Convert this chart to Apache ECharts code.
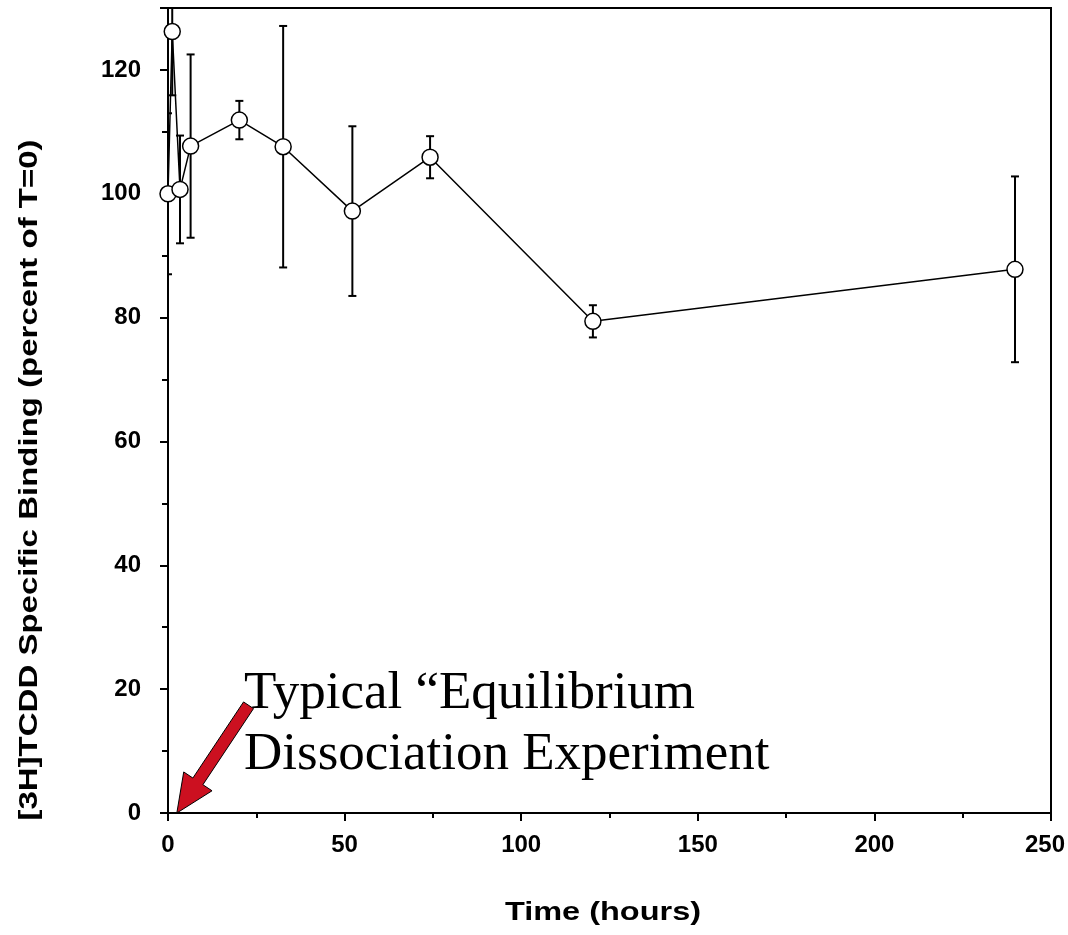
<!DOCTYPE html>
<html>
<head>
<meta charset="utf-8">
<script src="https://cdn.jsdelivr.net/npm/echarts@6/dist/echarts.min.js"></script>
<style>
html,body{margin:0;padding:0;background:#fff;}
#chart{width:1068px;height:935px;}
</style>
</head>
<body>
<div id="chart"></div>
<script>
// Data
const timeHours = [0, 1.2, 3.4, 6.4, 20.2, 32.6, 52.2, 74.2, 120.3, 239.8];
const bindingPct = [100, 126.2, 100.7, 107.7, 111.9, 107.6, 97.2, 105.9, 79.4, 87.8];
const bindingErr = [13, 10.3, 8.7, 14.8, 3.1, 19.5, 13.7, 3.4, 2.6, 15];
const xTickLabels = [0, 50, 100, 150, 200, 250];
const yTickLabels = [0, 20, 40, 60, 80, 100, 120];
const yAxisTitle = '[3H]TCDD Specific Binding (percent of T=0)';
const xAxisTitle = 'Time (hours)';
const noteLines = ['Typical \u201CEquilibrium', 'Dissociation Experiment'];
const arrowTip = [2.5, 0];
const arrowTail = [22.8, 17.4];

const points = timeHours.map((t, i) => [t, bindingPct[i]]);
const errData = timeHours.map((t, i) => [t, bindingPct[i] - bindingErr[i], bindingPct[i] + bindingErr[i]]);

const chart = echarts.init(document.getElementById('chart'));
const FONT = '"Liberation Sans", Arial, sans-serif';
const labelStyle = { fontFamily: FONT, fontWeight: 'bold', fontSize: 24, color: '#000' };

const option = {
  animation: false,
  backgroundColor: '#fff',
  grid: { left: 168, right: 17, top: 8, bottom: 122, show: true, borderColor: '#000', borderWidth: 2,
    backgroundColor: 'transparent', containLabel: false, outerBoundsMode: 'none' },
  xAxis: [{
    type: 'value', min: 0, max: 250, interval: 50,
    axisLine: { show: true, lineStyle: { color: '#000', width: 2 } },
    axisTick: { show: true, length: 8, lineStyle: { color: '#000', width: 2 } },
    minorTick: { show: true, splitNumber: 2, length: 5, lineStyle: { color: '#000', width: 2 } },
    splitLine: { show: false },
    axisLabel: Object.assign({ margin: 20,
      rich: { last: Object.assign({ padding: [0, 12, 0, 0] }, labelStyle) },
      formatter: v => !xTickLabels.includes(v) ? '' : (v === xTickLabels[xTickLabels.length - 1] ? '{last|' + v + '}' : String(v)) }, labelStyle)
  }],
  yAxis: [{
    type: 'value', min: 0, max: 130, interval: 20,
    axisLine: { show: true, lineStyle: { color: '#000', width: 2 } },
    axisTick: { show: true, length: 8, lineStyle: { color: '#000', width: 2 } },
    splitLine: { show: false },
    axisLabel: Object.assign({ margin: 27,
      formatter: v => yTickLabels.includes(v) ? String(v) : '' }, labelStyle)
  }, {
    type: 'value', min: 0, max: 130, interval: 10, position: 'left',
    axisLine: { show: false },
    axisTick: { show: true, length: 6, lineStyle: { color: '#000', width: 2 } },
    splitLine: { show: false },
    axisLabel: { show: false }
  }],
  series: [{
    type: 'custom',
    z: 1,
    clip: true,
    data: errData,
    renderItem: function (params, api) {
      const x = api.value(0);
      const lo = api.coord([x, api.value(1)]);
      const hi = api.coord([x, api.value(2)]);
      const cs = params.coordSys;
      const top = cs.y;
      const hw = 4;
      const children = [];
      const yHi = Math.max(hi[1], top);
      children.push({ type: 'line', shape: { x1: lo[0], y1: lo[1], x2: lo[0], y2: yHi }, style: { stroke: '#000', lineWidth: 2 } });
      children.push({ type: 'line', shape: { x1: lo[0] - hw, y1: lo[1], x2: lo[0] + hw, y2: lo[1] }, style: { stroke: '#000', lineWidth: 2 } });
      if (hi[1] >= top) {
        children.push({ type: 'line', shape: { x1: hi[0] - hw, y1: hi[1], x2: hi[0] + hw, y2: hi[1] }, style: { stroke: '#000', lineWidth: 2 } });
      }
      return { type: 'group', children: children };
    }
  }, {
    type: 'line',
    z: 3,
    data: points,
    symbol: 'circle',
    symbolSize: 16,
    lineStyle: { color: '#000', width: 1.5 },
    itemStyle: { color: '#fff', borderColor: '#000', borderWidth: 1.5 }
  }]
};
chart.setOption(option);

function drawOverlay() {
  const tip = chart.convertToPixel({ gridIndex: 0 }, arrowTip);
  const tail = chart.convertToPixel({ gridIndex: 0 }, arrowTail);
  const dx = tip[0] - tail[0], dy = tip[1] - tail[1];
  const len = Math.sqrt(dx * dx + dy * dy);
  const ux = dx / len, uy = dy / len;
  const px = -uy, py = ux;
  const shaftHalf = 6, headHalf = 17, headLen = 38;
  const bx = tip[0] - ux * headLen, by = tip[1] - uy * headLen;
  const pts = [
    [tail[0] + px * shaftHalf, tail[1] + py * shaftHalf],
    [bx + px * shaftHalf, by + py * shaftHalf],
    [bx + px * headHalf, by + py * headHalf],
    [tip[0], tip[1]],
    [bx - px * headHalf, by - py * headHalf],
    [bx - px * shaftHalf, by - py * shaftHalf],
    [tail[0] - px * shaftHalf, tail[1] - py * shaftHalf]
  ];
  chart.setOption({
    graphic: [
      { type: 'polygon', id: 'arrow', z: 10, shape: { points: pts }, style: { fill: '#cc1020', stroke: '#000', lineWidth: 1 } },
      { type: 'text', id: 'note1', z: 10, left: 244, top: 668, style: { text: noteLines[0], font: '53px "Liberation Serif", "Times New Roman", serif', fill: '#000' } },
      { type: 'text', id: 'note2', z: 10, left: 244, top: 729, style: { text: noteLines[1], font: '53px "Liberation Serif", "Times New Roman", serif', fill: '#000' } },
      { type: 'text', id: 'ytitle', z: 10, x: 30, y: 480, rotation: Math.PI / 2, scaleX: 1.32,
        style: { text: yAxisTitle, font: 'bold 25px "Liberation Sans", Arial, sans-serif', fill: '#000', align: 'center', verticalAlign: 'middle' } },
      { type: 'text', id: 'xtitle', z: 10, x: 603, y: 913, scaleX: 1.3,
        style: { text: xAxisTitle, font: 'bold 25px "Liberation Sans", Arial, sans-serif', fill: '#000', align: 'center', verticalAlign: 'middle' } }
    ]
  });
}
drawOverlay();
</script>
</body>
</html>
